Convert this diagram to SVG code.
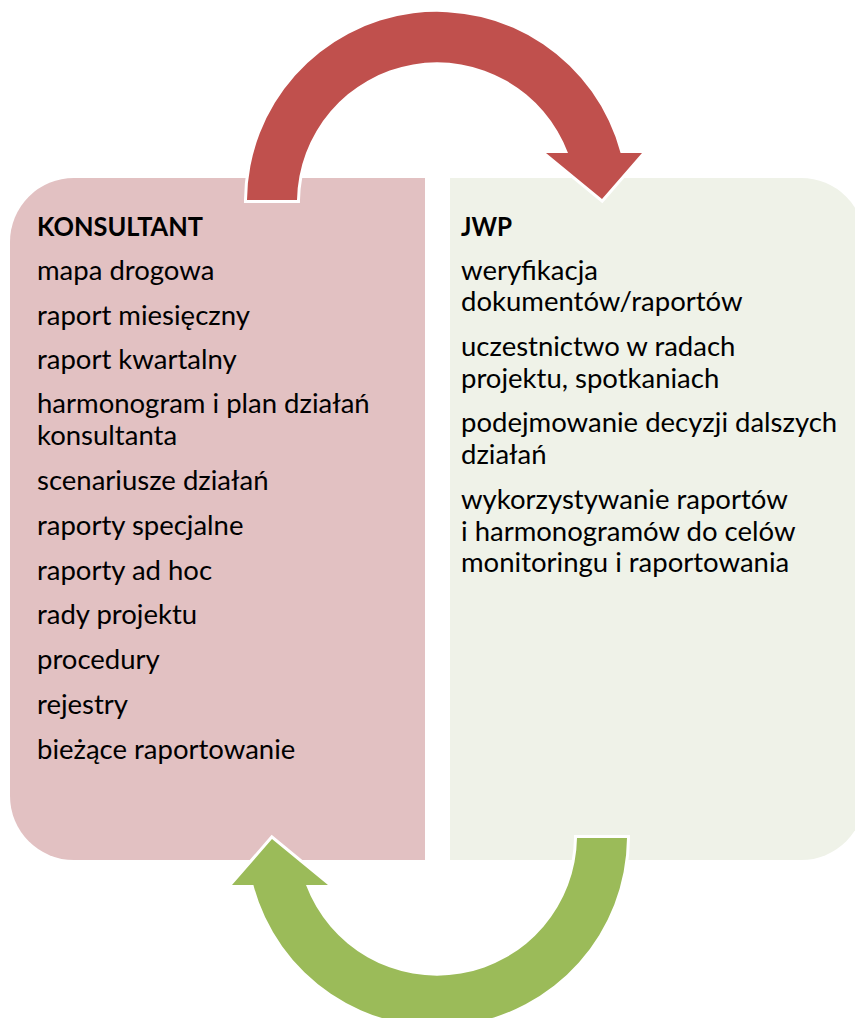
<svg xmlns="http://www.w3.org/2000/svg" width="855" height="1018" viewBox="0 0 855 1018">
<style>
.t{font-family:Lato,"Liberation Sans",sans-serif;font-size:27.5px;fill:#000}
.h{font-weight:bold;font-size:26px}
.arrow{stroke:#fff;stroke-width:6;stroke-linejoin:miter;paint-order:stroke}
</style>
<defs>
<path id="arc" d="M247,200 A190,190 0 0 1 620.6,153 L642,153 L602,199 L546,153 L568,153 A140,140 0 0 0 297,200 Z"/>
</defs>
<g id="node-konsultant">
<path d="M74,178 H425 V860 H74 A64,64 0 0 1 10,796 V242 A64,64 0 0 1 74,178 Z" fill="#E2C1C2"/>
<text class="t h" x="37" y="236" textLength="166" lengthAdjust="spacingAndGlyphs">KONSULTANT</text>
<text class="t" x="37" y="280">mapa drogowa</text>
<text class="t" x="37" y="325">raport miesięczny</text>
<text class="t" x="37" y="369">raport kwartalny</text>
<text class="t" x="37" y="413">harmonogram i plan działań</text>
<text class="t" x="37" y="445">konsultanta</text>
<text class="t" x="37" y="490">scenariusze działań</text>
<text class="t" x="37" y="535">raporty specjalne</text>
<text class="t" x="37" y="580">raporty ad hoc</text>
<text class="t" x="37" y="624">rady projektu</text>
<text class="t" x="37" y="669">procedury</text>
<text class="t" x="37" y="714">rejestry</text>
<text class="t" x="37" y="759">bieżące raportowanie</text>
</g>
<g id="node-jwp">
<path d="M450,178 H801 A64,64 0 0 1 865,242 V796 A64,64 0 0 1 801,860 H450 Z" fill="#EFF2E8"/>
<text class="t h" x="461" y="236" textLength="51" lengthAdjust="spacingAndGlyphs">JWP</text>
<text class="t" x="461" y="280">weryfikacja</text>
<text class="t" x="461" y="311">dokumentów/raportów</text>
<text class="t" x="461" y="356">uczestnictwo w radach</text>
<text class="t" x="461" y="388">projektu, spotkaniach</text>
<text class="t" x="461" y="432">podejmowanie decyzji dalszych</text>
<text class="t" x="461" y="464">działań</text>
<text class="t" x="461" y="509">wykorzystywanie raportów</text>
<text class="t" x="461" y="541">i harmonogramów do celów</text>
<text class="t" x="461" y="572">monitoringu i raportowania</text>
</g>
<g id="connectors">
<use href="#arc" class="arrow" fill="#C0504D"/>
<use href="#arc" class="arrow" fill="#9BBB59" transform="rotate(180 437 519)"/>
</g>
</svg>
